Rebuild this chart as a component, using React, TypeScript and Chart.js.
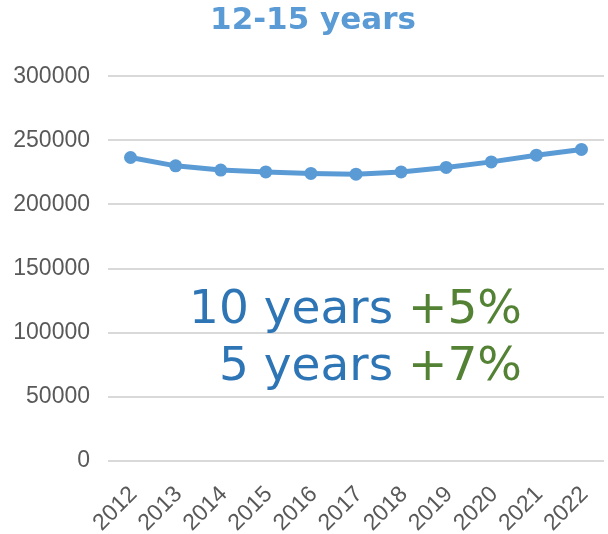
import React, { useEffect, useRef } from "react";
import { Chart, registerables } from "chart.js";

Chart.register(...registerables);

const years = ["2012", "2013", "2014", "2015", "2016", "2017", "2018", "2019", "2020", "2021", "2022"];
const population = [236600, 230100, 226800, 225400, 224200, 223600, 225400, 228900, 233200, 238400, 242900];
const titleText = "12-15 years";
const noteLines = [
  { label: "10 years ", change: "+5%" },
  { label: "5 years ", change: "+7%" },
];

const LINE_COLOR = "#5B9BD5";
const NOTE_BLUE = "#2E75B6";
const NOTE_GREEN = "#548235";
const TICK_COLOR = "#595959";
const GRID_COLOR = "#D9D9D9";

const titleShiftPlugin = {
  id: "titleShift",
  afterLayout(chart: any) {
    if (chart.titleBlock) {
      chart.titleBlock.left = chart.titleBlock.left + 18;
      chart.titleBlock.right = chart.titleBlock.right + 4;
    }
  },
};

const notePlugin = {
  id: "notePlugin",
  afterDraw(chart: any) {
    const { ctx, chartArea } = chart;
    ctx.save();
    ctx.font = "47px 'DejaVu Sans'";
    ctx.textBaseline = "alphabetic";
    const right = chartArea.left + 414;
    const baselines = [chartArea.top + 247, chartArea.top + 304];
    noteLines.forEach((ln, i) => {
      const y = baselines[i];
      ctx.textAlign = "right";
      ctx.fillStyle = NOTE_GREEN;
      ctx.fillText(ln.change, right, y);
      const w = ctx.measureText(ln.change).width;
      ctx.fillStyle = NOTE_BLUE;
      ctx.fillText(ln.label, right - w, y);
    });
    ctx.restore();
  },
};

export default function App() {
  const ref = useRef<HTMLCanvasElement | null>(null);
  useEffect(() => {
    if (!ref.current) return;
    const chart = new Chart(ref.current, {
      type: "line",
      data: {
        labels: years,
        datasets: [
          {
            data: population,
            borderColor: LINE_COLOR,
            backgroundColor: LINE_COLOR,
            borderWidth: 5,
            pointRadius: 6.5,
            pointBackgroundColor: LINE_COLOR,
            pointBorderWidth: 0,
            tension: 0,
          },
        ],
      },
      options: {
        responsive: false,
        animation: false,
        layout: { autoPadding: false, padding: { left: 0, right: 4, top: 0, bottom: 0 } },
        plugins: {
          legend: { display: false },
          tooltip: { enabled: false },
          title: {
            display: true,
            text: titleText,
            color: LINE_COLOR,
            font: { family: "'DejaVu Sans'", size: 31, weight: "bold" },
            padding: { top: 2, bottom: 37 },
          },
        },
        scales: {
          x: {
            offset: true,
            grid: { display: false, drawTicks: false },
            border: { display: false },
            ticks: {
              color: TICK_COLOR,
              font: { family: "'Liberation Sans'", size: 23 },
              minRotation: 45,
              maxRotation: 45,
              padding: 20,
              labelOffset: 3,
              autoSkip: false,
            },
            afterFit: (scale: any) => {
              scale.height = 73;
              scale.paddingLeft = 0;
              scale.paddingRight = 0;
            },
          },
          y: {
            min: 0,
            max: 300000,
            grid: { color: GRID_COLOR, lineWidth: 2, drawTicks: false },
            border: { display: false },
            ticks: {
              stepSize: 50000,
              color: TICK_COLOR,
              font: { family: "'Liberation Sans'", size: 23 },
              padding: 18,
              callback: (v: any) => String(v),
            },
            afterFit: (scale: any) => {
              scale.width = 108;
            },
          },
        },
      },
      plugins: [titleShiftPlugin, notePlugin],
    });
    return () => chart.destroy();
  }, []);
  return (
    <div style={{ position: "fixed", left: 0, top: 0, width: 608, height: 534, background: "#fff" }}>
      <canvas ref={ref} width={608} height={534} />
    </div>
  );
}
